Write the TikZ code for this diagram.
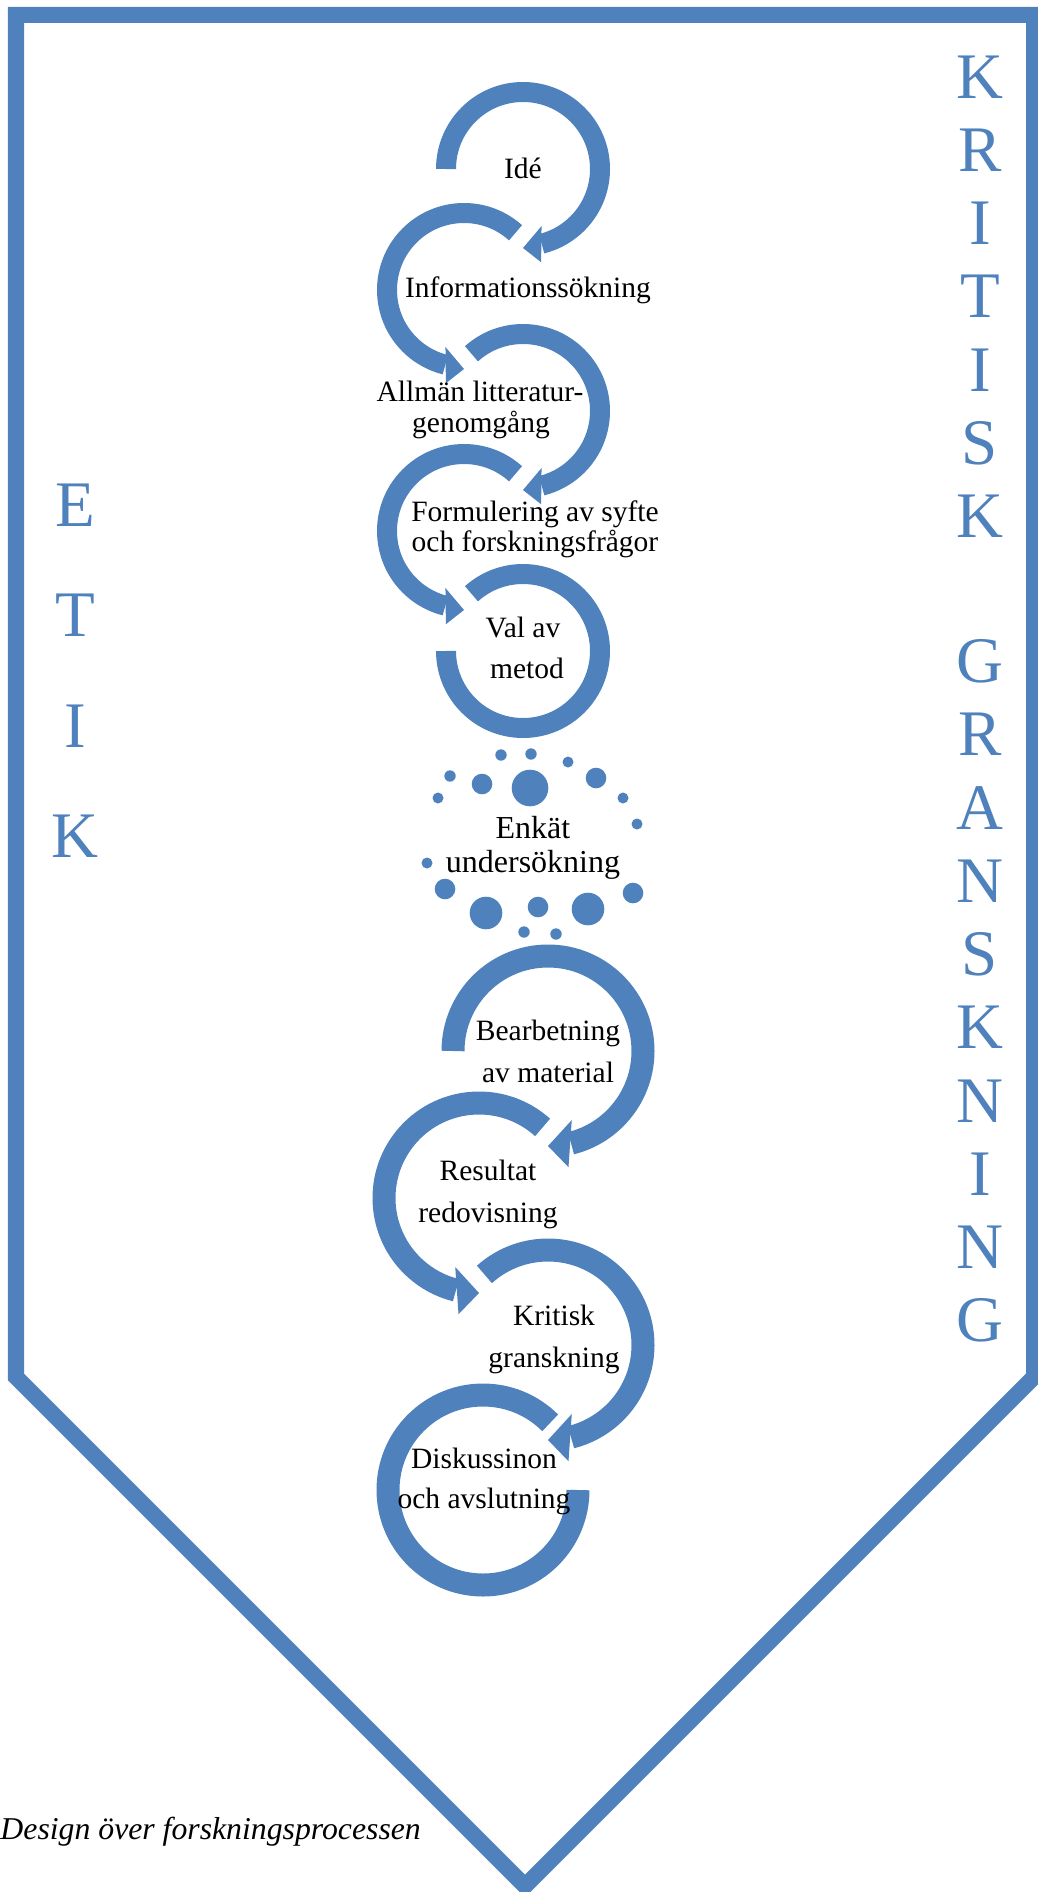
\documentclass[tikz,border=0pt]{standalone}
\usepackage{fontspec}
\setmainfont{Liberation Serif}
\usepackage{tikz}
\definecolor{ringblue}{RGB}{79,129,189}
\tikzset{
  ring/.style={draw=ringblue, line width=8pt},
  bigring/.style={draw=ringblue, line width=9.2pt},
  head/.style={fill=ringblue},
  steplabel/.style={inner sep=0pt, anchor=base, font=\fontsize{11.8}{14}\selectfont},
  bigletters/.style={text=ringblue, inner sep=0pt, anchor=north, align=center}
}

\begin{document}
\begin{tikzpicture}[x=0.4pt, y=0.4pt]
    \useasboundingbox (0,0) rectangle (1038,-1892);

    % frame
    \draw[ringblue, line width=6.4pt] (16,-15) -- (1034,-15) -- (1034,-1377)
        -- (525,-1886) -- (16,-1377) -- cycle;

    \node[bigletters, font=\fontsize{26}{44.2}\selectfont] (etik) at (75,-483) {E\\T\\I\\K};
    \node[bigletters, font=\fontsize{26}{29.3}\selectfont] (kritisk) at (980,-55) {K\\R\\I\\T\\I\\S\\K};
    \node[bigletters, font=\fontsize{26}{29.3}\selectfont] (granskning) at (980,-639) {G\\R\\A\\N\\S\\K\\N\\I\\N\\G};

    % centres of the rings
    \coordinate (cIde) at (523,-169);
    \coordinate (cInfo) at (464,-290);
    \coordinate (cAllman) at (523,-411);
    \coordinate (cFormul) at (464,-531);
    \coordinate (cVal) at (523,-651);
    \coordinate (cBearb) at (548,-1051);
    \coordinate (cResult) at (479,-1198);
    \coordinate (cKritisk) at (548,-1345);
    \coordinate (cDisk) at (483,-1490);

    \begin{scope}[shift={(cIde)}]
      \draw[ring] (180:77) arc[start angle=180, end angle=-76, radius=77];
      \fill[head] (-72:60) -- (-90:79) -- (-79:95) -- cycle;
    \end{scope}
    \begin{scope}[shift={(cInfo)}]
      \draw[ring] (48:77) arc[start angle=48, end angle=256, radius=77];
      \fill[head] (-108:60) -- (-90:79) -- (-101:95) -- cycle;
    \end{scope}
    \begin{scope}[shift={(cAllman)}]
      \draw[ring] (132:77) arc[start angle=132, end angle=-76, radius=77];
      \fill[head] (-72:60) -- (-90:79) -- (-79:95) -- cycle;
    \end{scope}
    \begin{scope}[shift={(cFormul)}]
      \draw[ring] (48:77) arc[start angle=48, end angle=256, radius=77];
      \fill[head] (-108:60) -- (-90:79) -- (-101:95) -- cycle;
    \end{scope}
    \begin{scope}[shift={(cVal)}]
      \draw[ring] (132:77) arc[start angle=132, end angle=-180, radius=77];
    \end{scope}

    % enkät: ring of dots
    \fill[ringblue] (501,-755) circle[radius=5.7] (531,-754) circle[radius=5.7]
        (568,-762) circle[radius=5.5] (596,-778) circle[radius=10.3]
        (530,-788) circle[radius=18.3] (482,-784) circle[radius=10.3]
        (450,-776) circle[radius=5.7] (438,-798) circle[radius=5.5]
        (623,-798) circle[radius=5.5] (637,-824) circle[radius=5.5]
        (427,-863) circle[radius=5.5] (445,-889) circle[radius=10.3]
        (486,-913) circle[radius=16.3] (538,-907) circle[radius=10.3]
        (588,-909) circle[radius=16.3] (633,-893) circle[radius=10.3]
        (524,-932) circle[radius=5.7] (556,-934) circle[radius=5.7];

    \begin{scope}[shift={(cBearb)}]
      \draw[bigring] (180:95) arc[start angle=180, end angle=-76, radius=95];
      \fill[head] (-71:73) -- (-90:95) -- (-80:118) -- cycle;
    \end{scope}
    \begin{scope}[shift={(cResult)}]
      \draw[bigring] (48:95) arc[start angle=48, end angle=256, radius=95];
      \fill[head] (-109:73) -- (-90:95) -- (-100:118) -- cycle;
    \end{scope}
    \begin{scope}[shift={(cKritisk)}]
      \draw[bigring] (132:95) arc[start angle=132, end angle=-76, radius=95];
      \fill[head] (-71:73) -- (-90:95) -- (-80:118) -- cycle;
    \end{scope}
    \begin{scope}[shift={(cDisk)}]
      \draw[bigring] (45:95) arc[start angle=45, end angle=360, radius=95];
    \end{scope}

    % step texts
    \node[steplabel] (ide) at (523,-178) {Idé};
    \node[steplabel] (info) at (528,-297) {Informationssökning};
    \node[steplabel] (allman1) at (480,-401) {Allmän litteratur-};
    \node[steplabel] (allman2) at (481,-432) {genomgång};
    \node[steplabel] (formul1) at (535,-521) {Formulering av syfte};
    \node[steplabel] (formul2) at (535,-551) {och forskningsfrågor};
    \node[steplabel] (val1) at (523,-637) {Val av};
    \node[steplabel] (val2) at (527,-678) {metod};
    \node[steplabel, font=\fontsize{12.8}{15}\selectfont] (enkat1) at (533,-838) {Enkät};
    \node[steplabel, font=\fontsize{12.8}{15}\selectfont] (enkat2) at (533,-872) {undersökning};
    \node[steplabel] (bearb1) at (548,-1040) {Bearbetning};
    \node[steplabel] (bearb2) at (548,-1082) {av material};
    \node[steplabel] (result1) at (488,-1180) {Resultat};
    \node[steplabel] (result2) at (488,-1222) {redovisning};
    \node[steplabel] (kritisk1) at (554,-1325) {Kritisk};
    \node[steplabel] (kritisk2) at (554,-1367) {granskning};
    \node[steplabel] (disk1) at (484,-1468) {Diskussinon};
    \node[steplabel] (disk2) at (484,-1508) {och avslutning};

    \node[inner sep=0pt, anchor=base west, font=\itshape\fontsize{12.7}{15}\selectfont]
        (caption) at (0,-1839) {Design över forskningsprocessen};
\end{tikzpicture}
\end{document}
